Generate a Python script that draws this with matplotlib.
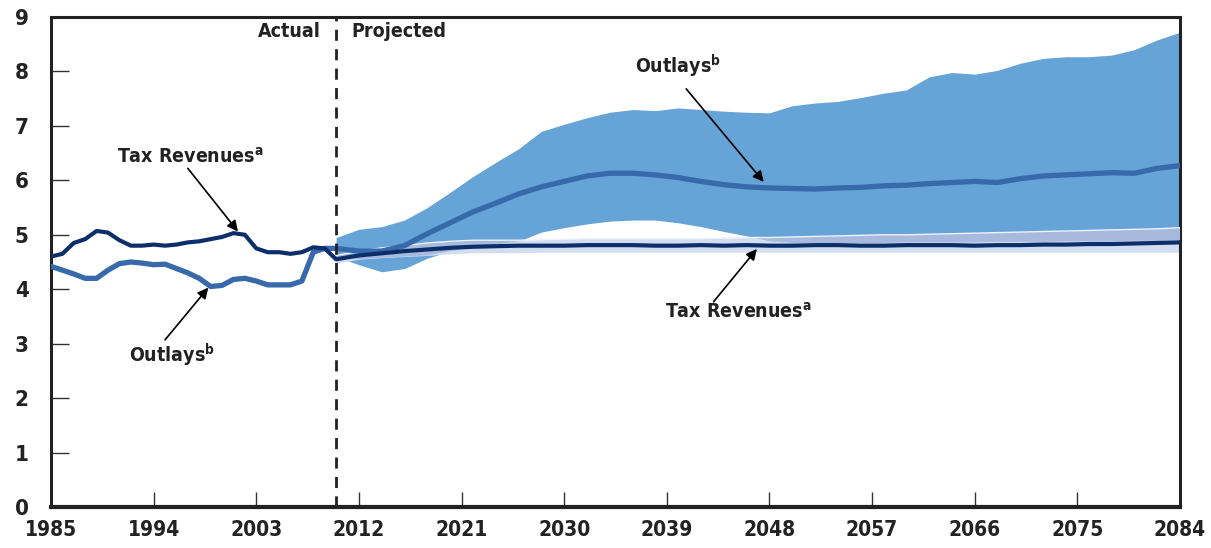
import numpy as np
import matplotlib.pyplot as plt

plt.rcParams['font.family'] = ['DejaVu Sans']
plt.rcParams['font.stretch'] = 'condensed'
plt.rcParams['mathtext.fontset'] = 'dejavusans'

# actual, 1985-2009
hist_years = np.arange(1985, 2010)
hist_tax = [4.60, 4.65, 4.85, 4.92, 5.07, 5.04, 4.90, 4.80, 4.80, 4.82,
            4.80, 4.82, 4.86, 4.88, 4.92, 4.96, 5.03, 5.00, 4.75, 4.68,
            4.68, 4.65, 4.68, 4.77, 4.75]
hist_out = [4.42, 4.35, 4.28, 4.20, 4.20, 4.35, 4.47, 4.50, 4.48, 4.45,
            4.46, 4.38, 4.30, 4.20, 4.05, 4.07, 4.18, 4.20, 4.15, 4.08,
            4.08, 4.08, 4.15, 4.68, 4.75]

# projected, 2010-2084
proj_years = np.arange(2010, 2085, 2)
out_hi = [4.95, 5.10, 5.15, 5.27, 5.50, 5.78, 6.07, 6.33, 6.58, 6.90,
          7.03, 7.15, 7.25, 7.30, 7.28, 7.33, 7.30, 7.27, 7.25, 7.24,
          7.37, 7.42, 7.45, 7.52, 7.60, 7.66, 7.90, 7.98, 7.95, 8.02,
          8.15, 8.24, 8.27, 8.27, 8.30, 8.40, 8.58, 8.72]
out_mid = [4.75, 4.70, 4.70, 4.80, 5.02, 5.22, 5.42, 5.58, 5.75, 5.88,
           5.98, 6.08, 6.13, 6.13, 6.10, 6.05, 5.98, 5.92, 5.88, 5.86,
           5.85, 5.84, 5.86, 5.87, 5.90, 5.91, 5.94, 5.96, 5.98, 5.96,
           6.03, 6.08, 6.10, 6.12, 6.14, 6.13, 6.22, 6.27]
out_lo = [4.60, 4.45, 4.32, 4.38, 4.57, 4.70, 4.76, 4.82, 4.88, 5.05,
          5.13, 5.20, 5.25, 5.27, 5.27, 5.22, 5.15, 5.06, 4.98, 4.88,
          4.85, 4.85, 4.85, 4.85, 4.85, 4.86, 4.86, 4.86, 4.86, 4.87,
          4.87, 4.87, 4.88, 4.88, 4.88, 4.89, 4.89, 4.90]
tax_hi = [4.62, 4.70, 4.76, 4.80, 4.85, 4.88, 4.90, 4.90, 4.90, 4.91,
          4.92, 4.93, 4.93, 4.93, 4.93, 4.93, 4.93, 4.94, 4.95, 4.95,
          4.96, 4.97, 4.98, 4.99, 5.00, 5.00, 5.01, 5.02, 5.03, 5.04,
          5.05, 5.06, 5.07, 5.08, 5.09, 5.10, 5.11, 5.13]
tax_mid = [4.55, 4.62, 4.66, 4.70, 4.73, 4.76, 4.78, 4.79, 4.80, 4.80,
           4.80, 4.81, 4.81, 4.81, 4.80, 4.80, 4.81, 4.80, 4.81, 4.80,
           4.80, 4.81, 4.81, 4.80, 4.80, 4.81, 4.81, 4.81, 4.80, 4.81,
           4.81, 4.82, 4.82, 4.83, 4.83, 4.84, 4.85, 4.86]
tax_lo = [4.48, 4.55, 4.58, 4.60, 4.62, 4.65, 4.67, 4.67, 4.67, 4.68,
          4.68, 4.68, 4.68, 4.68, 4.68, 4.68, 4.68, 4.68, 4.68, 4.68,
          4.68, 4.68, 4.68, 4.68, 4.68, 4.68, 4.68, 4.68, 4.68, 4.68,
          4.68, 4.68, 4.68, 4.68, 4.68, 4.68, 4.68, 4.68]

split_year = 2010

fig = plt.figure(figsize=(12.11, 5.48), dpi=100)
ax = fig.add_axes([0.0421, 0.0748, 0.9323, 0.8942])

# bands
ax.fill_between(proj_years, out_lo, out_hi, color='#66a3d7', lw=0, zorder=1)
ax.fill_between(proj_years, tax_lo, tax_hi, color='#d3ddf0', lw=0, zorder=2)
ov_lo = np.maximum(out_lo, tax_lo)
ov_hi = np.minimum(out_hi, tax_hi)
ax.fill_between(proj_years, ov_lo, ov_hi, where=ov_hi > ov_lo, interpolate=True,
                color='#a7b9dc', lw=0, zorder=3)
ax.plot(proj_years, tax_hi, color='#eef2fa', lw=1, zorder=3)

# lines
ax.plot(np.concatenate([hist_years, proj_years]), hist_out + out_mid,
        color='#3769ab', lw=3.8, solid_capstyle='round', zorder=4)
ax.plot(np.concatenate([hist_years, proj_years]), hist_tax + tax_mid,
        color='#0c2f6c', lw=3.0, solid_capstyle='round', zorder=5)

ax.axvline(split_year, color='#222222', lw=2, ls=(0, (4, 3)), zorder=6)

ax.set_xlim(1985, 2084)
ax.set_ylim(0, 9)
ax.set_xticks(np.arange(1985, 2085, 9))
ax.set_yticks(np.arange(0, 10))
ax.tick_params(axis='x', direction='in', length=11, width=1, pad=9,
               labelsize=15, color='#333333')
ax.tick_params(axis='y', direction='in', length=13, width=1, pad=16,
               labelsize=16, color='#333333')
for lab in ax.get_xticklabels() + ax.get_yticklabels():
    lab.set_fontweight('bold')
    lab.set_color('#222222')

for side in ['left', 'top', 'right']:
    ax.spines[side].set_linewidth(2.2)
    ax.spines[side].set_color('#222222')
ax.spines['bottom'].set_linewidth(3)
ax.spines['bottom'].set_color('#222222')

txt = dict(fontsize=14, fontweight='bold', color='#222222')
ax.text(split_year - 1.3, 8.73, 'Actual', ha='right', va='center', **txt)
ax.text(split_year + 1.3, 8.73, 'Projected', ha='left', va='center', **txt)

arrow = dict(arrowstyle='-|>', color='black', lw=1.2, mutation_scale=16,
             shrinkA=0, shrinkB=0)
ax.text(1997.2, 6.43, r'Tax Revenues$^{\mathbf{a}}$', ha='center', va='center', **txt)
ax.annotate('', xy=(2001.4, 5.06), xytext=(1997.0, 6.22), arrowprops=arrow)
ax.text(1995.6, 2.79, r'Outlays$^{\mathbf{b}}$', ha='center', va='center', **txt)
ax.annotate('', xy=(1998.8, 4.03), xytext=(1995.0, 3.07), arrowprops=arrow)
ax.text(2040.0, 8.09, r'Outlays$^{\mathbf{b}}$', ha='center', va='center', **txt)
ax.annotate('', xy=(2047.5, 5.97), xytext=(2040.7, 7.68), arrowprops=arrow)
ax.text(2045.3, 3.58, r'Tax Revenues$^{\mathbf{a}}$', ha='center', va='center', **txt)
ax.annotate('', xy=(2046.9, 4.74), xytext=(2043.1, 3.77), arrowprops=arrow)

fig.savefig('out.png', dpi=100)
